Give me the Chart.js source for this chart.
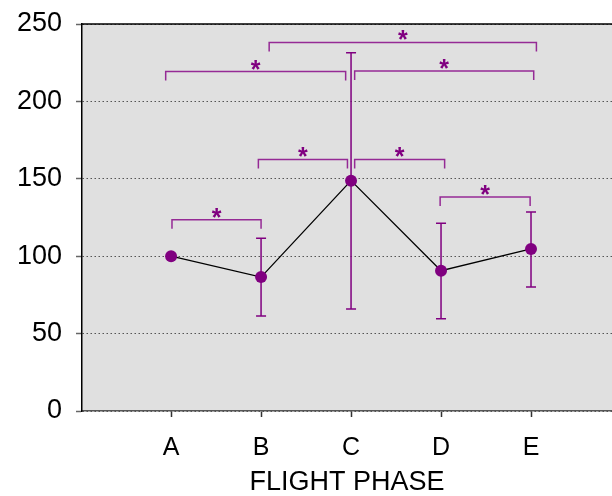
<!DOCTYPE html>
<html>
<head>
<meta charset="utf-8">
<script src="https://cdn.jsdelivr.net/npm/chart.js@4"></script>
<style>
  html, body { margin: 0; padding: 0; background: #fff; }
  #wrap { width: 612px; height: 496px; }
</style>
</head>
<body>
<div id="wrap"><canvas id="grafico" width="612" height="496"></canvas></div>
<script>
// --- dados ---
const fases = ['A', 'B', 'C', 'D', 'E'];
const medias = [100, 86.5, 148.8, 90.6, 104.7];
const erroSup = [null, 111.6, 231.5, 121.3, 128.6];
const erroInf = [null, 61.4, 65.9, 59.6, 80.1];
const yTicks = [0, 50, 100, 150, 200, 250];

// colchetes de significância (posições em unidades de categoria / valor)
const colcheteDe = [0.01, 0.97, 2.04, 2.99, -0.06, 2.04, 1.09];
const colcheteAte = [1.0, 1.96, 3.04, 3.99, 1.94, 4.03, 4.06];
const colcheteNivel = [123.6, 162.5, 162.5, 138.2, 219.3, 219.6, 238.1];

const ROXO = '#800080';

// fundo cinza e moldura superior
const fundoPlugin = {
    id: 'fundo',
    beforeDraw(chart) {
        const { ctx, chartArea: a } = chart;
        ctx.save();
        ctx.fillStyle = '#e0e0e0';
        ctx.fillRect(a.left, a.top, a.right - a.left, a.bottom - a.top);
        ctx.restore();
    },
    afterDraw(chart) {
        const { ctx, chartArea: a } = chart;
        ctx.save();
        ctx.strokeStyle = '#000';
        ctx.lineWidth = 1.5;
        ctx.beginPath();
        ctx.moveTo(a.left, a.top);
        ctx.lineTo(a.right, a.top);
        ctx.stroke();
        ctx.restore();
    }
};

// barras de erro + colchetes com asterisco
const anotacoesPlugin = {
    id: 'anotacoes',
    beforeDatasetsDraw(chart) {
        const { ctx } = chart;
        const x = chart.scales.x, y = chart.scales.y;
        ctx.save();
        ctx.strokeStyle = ROXO;
        ctx.lineWidth = 1.5;
        fases.forEach((f, i) => {
            if (erroSup[i] == null) return;
            const px = x.getPixelForValue(i);
            const yt = y.getPixelForValue(erroSup[i]);
            const yb = y.getPixelForValue(erroInf[i]);
            ctx.beginPath();
            ctx.moveTo(px, yt); ctx.lineTo(px, yb);
            ctx.moveTo(px - 5, yt); ctx.lineTo(px + 5, yt);
            ctx.moveTo(px - 5, yb); ctx.lineTo(px + 5, yb);
            ctx.stroke();
        });

        ctx.strokeStyle = '#952a95';
        ctx.fillStyle = ROXO;
        ctx.font = 'bold 25px "Liberation Sans", Arial, sans-serif';
        ctx.textAlign = 'center';
        ctx.textBaseline = 'alphabetic';
        colcheteDe.forEach((de, i) => {
            const x1 = x.getPixelForValue(de);
            const x2 = x.getPixelForValue(colcheteAte[i]);
            const py = y.getPixelForValue(colcheteNivel[i]);
            ctx.beginPath();
            ctx.moveTo(x1, py + 9);
            ctx.lineTo(x1, py);
            ctx.lineTo(x2, py);
            ctx.lineTo(x2, py + 9);
            ctx.stroke();
            ctx.fillText('*', (x1 + x2) / 2, py + 6);
        });
        ctx.restore();
    }
};

const familia = '"Liberation Sans", Arial, sans-serif';

new Chart(document.getElementById('grafico'), {
    type: 'line',
    data: {
        datasets: [{
            data: medias.map((v, i) => ({ x: i, y: v })),
            borderColor: '#000',
            borderWidth: 1.3,
            pointBackgroundColor: ROXO,
            pointBorderColor: ROXO,
            pointRadius: 6,
            pointBorderWidth: 0,
            tension: 0
        }]
    },
    options: {
        responsive: false,
        animation: false,
        layout: { autoPadding: false, padding: { top: 24, right: 0, left: 0, bottom: 0 } },
        plugins: {
            legend: { display: false },
            tooltip: { enabled: false }
        },
        scales: {
            x: {
                type: 'linear',
                min: -0.99,
                max: 4.9,
                afterBuildTicks: (s) => { s.ticks = fases.map((f, i) => ({ value: i })); },
                afterFit: (s) => {
                    s.height = 85;
                    s.paddingLeft = 0;
                    s.paddingRight = 0;
                },
                ticks: {
                    callback: (v) => fases[v],
                    color: '#000',
                    font: { family: familia, size: 25 },
                    padding: 16,
                    maxRotation: 0,
                    autoSkip: false
                },
                grid: {
                    drawOnChartArea: false,
                    drawTicks: true,
                    tickLength: 6,
                    tickColor: '#333',
                    tickWidth: 1.5
                },
                border: { color: '#555', width: 1.5 },
                title: {
                    display: true,
                    text: 'FLIGHT PHASE',
                    color: '#000',
                    font: { family: familia, size: 27 },
                    padding: { top: 6, bottom: -3 }
                }
            },
            y: {
                min: 0,
                max: 250,
                afterBuildTicks: (s) => { s.ticks = yTicks.map(v => ({ value: v })); },
                afterFit: (s) => {
                    s.width = 82;
                    s.paddingTop = 0;
                    s.paddingBottom = 0;
                },
                ticks: {
                    color: '#000',
                    font: { family: familia, size: 27 },
                    padding: 14
                },
                grid: {
                    color: '#555',
                    lineWidth: 1,
                    tickLength: 6,
                    tickColor: '#666',
                    tickWidth: 1.5
                },
                border: { color: '#000', width: 1.5, dash: [1.5, 2.5] }
            }
        }
    },
    plugins: [fundoPlugin, anotacoesPlugin]
});
</script>
</body>
</html>
